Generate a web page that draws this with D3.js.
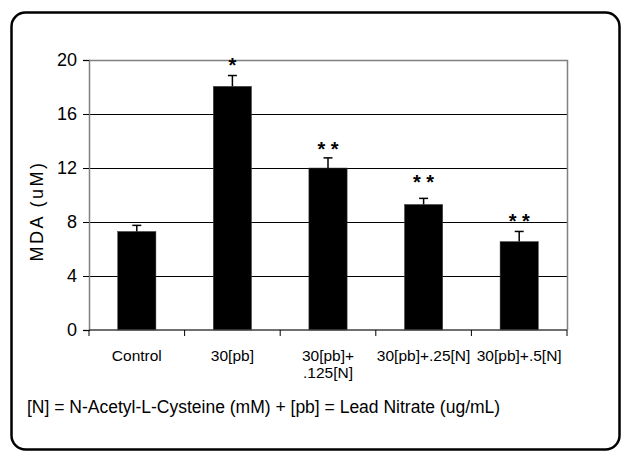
<!DOCTYPE html>
<html>
<head>
<meta charset="utf-8">
<script src="https://cdn.jsdelivr.net/npm/d3@7"></script>
<style>
  html, body { margin: 0; padding: 0; background: #fff; }
  svg { display: block; font-family: "Liberation Sans", Arial, sans-serif; }
</style>
</head>
<body>
<div id="chart"></div>
<script>
// ---- data ----
const categories = ["Control", "30[pb]", "30[pb]+\n.125[N]", "30[pb]+.25[N]", "30[pb]+.5[N]"];
const values = [7.3, 18.05, 12.0, 9.3, 6.55];
const errors = [0.45, 0.8, 0.75, 0.45, 0.75];
const marks = ["", "*", "* *", "* *", "* *"];
const markLevels = [null, 19.9, 13.7, 11.25, 8.35];
const yTicks = [0, 4, 8, 12, 16, 20];
const yTitle = "MDA (uM)";
const footer = "[N] = N-Acetyl-L-Cysteine (mM) + [pb] = Lead Nitrate (ug/mL)";

// ---- layout ----
const W = 621, H = 453;
const plot = { left: 89, right: 567, top: 60, bottom: 330 };

const svg = d3.select("#chart").append("svg").attr("width", W).attr("height", H);

// outer rounded frame
svg.append("rect")
  .attr("x", 11.5).attr("y", 12.5)
  .attr("width", 608).attr("height", 437)
  .attr("rx", 14).attr("ry", 14)
  .attr("fill", "none").attr("stroke", "#000").attr("stroke-width", 2.5);

const x = d3.scaleBand().domain(d3.range(categories.length))
  .range([plot.left, plot.right]).paddingInner(0).paddingOuter(0);
const y = d3.scaleLinear().domain([0, 20]).range([plot.bottom, plot.top]);

const barW = x.bandwidth() * 0.4;

// gridlines
svg.append("g").selectAll("line")
  .data(yTicks.filter(t => t > 0 && t < 20))
  .join("line")
  .attr("x1", plot.left).attr("x2", plot.right)
  .attr("y1", d => Math.round(y(d)) + 0.5).attr("y2", d => Math.round(y(d)) + 0.5)
  .attr("stroke", "#000").attr("stroke-width", 1);

// plot frame (top & right)
svg.append("path")
  .attr("d", `M${plot.left},${plot.top + 0.5}H${plot.right + 0.5}V${plot.bottom}`)
  .attr("fill", "none").attr("stroke", "#808080").attr("stroke-width", 1.5);

// bars
svg.append("g").selectAll("rect")
  .data(values)
  .join("rect")
  .attr("x", (d, i) => x(i) + (x.bandwidth() - barW) / 2)
  .attr("y", d => y(d))
  .attr("width", barW)
  .attr("height", d => plot.bottom - y(d))
  .attr("fill", "#000")
  .attr("stroke", "#444").attr("stroke-width", 0.5);

// error bars (upper only)
const eg = svg.append("g").attr("stroke", "#000").attr("stroke-width", 1.5);
values.forEach((v, i) => {
  const cx = x(i) + x.bandwidth() / 2;
  eg.append("line").attr("x1", cx).attr("x2", cx)
    .attr("y1", y(v)).attr("y2", y(v + errors[i]));
  eg.append("line").attr("x1", cx - 4.5).attr("x2", cx + 4.5)
    .attr("y1", y(v + errors[i])).attr("y2", y(v + errors[i]));
});

// significance marks
svg.append("g").selectAll("text")
  .data(marks.map((m, i) => ({ m, i })).filter(d => d.m))
  .join("text")
  .attr("x", d => x(d.i) + x.bandwidth() / 2)
  .attr("y", d => y(markLevels[d.i]) + 11)
  .attr("text-anchor", "middle")
  .attr("font-size", 20).attr("font-weight", "bold")
  .text(d => d.m);

// y axis
const yAxis = svg.append("g")
  .attr("transform", `translate(${plot.left},0)`)
  .call(d3.axisLeft(y).tickValues(yTicks).tickSize(6).tickPadding(6).tickFormat(d3.format("d")));
yAxis.select(".domain").attr("stroke", "#808080").attr("stroke-width", 1.5);
yAxis.selectAll(".tick line").attr("stroke", "#000");
yAxis.selectAll(".tick text").attr("font-size", 18).attr("fill", "#000")
  .attr("font-family", "Liberation Sans, Arial, sans-serif");

// x axis
const xEdges = d3.range(categories.length + 1).map(i =>
  i < categories.length ? x(i) : plot.right);
svg.append("line")
  .attr("x1", plot.left).attr("x2", plot.right)
  .attr("y1", plot.bottom).attr("y2", plot.bottom)
  .attr("stroke", "#404040").attr("stroke-width", 1.5);
svg.append("g").selectAll("line")
  .data(xEdges)
  .join("line")
  .attr("x1", d => d).attr("x2", d => d)
  .attr("y1", plot.bottom).attr("y2", plot.bottom + 6)
  .attr("stroke", "#000").attr("stroke-width", 1);

// x labels
const xl = svg.append("g").attr("font-size", 15.5).attr("text-anchor", "middle");
categories.forEach((c, i) => {
  const t = xl.append("text").attr("x", x(i) + x.bandwidth() / 2).attr("y", 361);
  c.split("\n").forEach((line, j) => {
    t.append("tspan").attr("x", x(i) + x.bandwidth() / 2).attr("dy", j === 0 ? 0 : 17).text(line);
  });
});

// y title
svg.append("text")
  .attr("transform", `translate(43,${(plot.top + plot.bottom) / 2 + 16}) rotate(-90)`)
  .attr("text-anchor", "middle")
  .attr("font-size", 18)
  .attr("letter-spacing", 2.5)
  .text(yTitle);

// footer
svg.append("text")
  .attr("x", 27).attr("y", 413)
  .attr("font-size", 17.5)
  .text(footer);
</script>
</body>
</html>
